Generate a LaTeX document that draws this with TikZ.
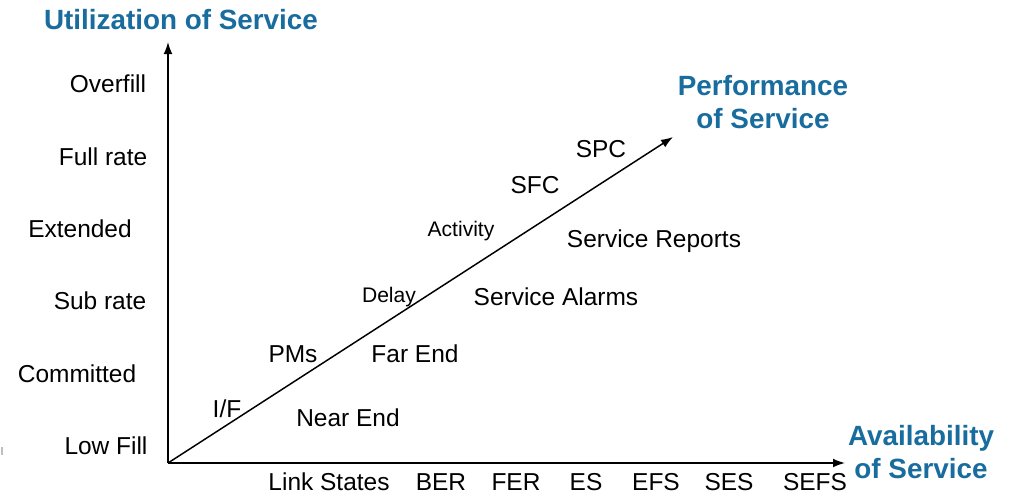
\documentclass[tikz,border=0pt]{standalone}
\usepackage{fontspec}
\setmainfont{Liberation Sans}
\usetikzlibrary{arrows.meta}
\definecolor{titleblue}{RGB}{24,108,158}

\begin{document}
\begin{tikzpicture}
            [
                x=0.025cm, y=-0.025cm,
                label/.style={inner sep=0pt, font=\fontsize{17.4}{20}\selectfont},
                small/.style={inner sep=0pt, font=\fontsize{15}{18}\selectfont},
                title/.style={inner sep=0pt, align=center, text=titleblue, font=\fontsize{19.8}{23.5}\selectfont\bfseries},
                axis/.style={line width=1.05pt, -{Latex[length=3mm,width=2.2mm]}}
            ]
            \useasboundingbox (0,0) rectangle (1013,495);
            %coordinates
            \coordinate (origin)     at (168,463);
            \coordinate (util_end)   at (168,42);
            \coordinate (avail_end)  at (845,463);
            \coordinate (perf_end)   at (673,137);
            %titles
            \node[title] at (181,20)                (util_title)   {Utilization of Service};
            \node[title] at (763,102)               (perf_title)   {Performance\\of Service};
            \node[title] at (921,452)               (avail_title)  {Availability\\of Service};
            %utilization levels
            \node[label] at (108,84)                (overfill)     {Overfill};
            \node[label] at (103,157)               (full_rate)    {Full rate};
            \node[label] at (80,229)                (extended)     {Extended};
            \node[label] at (100,301)               (sub_rate)     {Sub rate};
            \node[label] at (77,374)                (committed)    {Committed};
            \node[label] at (106,446)               (low_fill)     {Low Fill};
            %availability measures
            \node[label] at (329,482)               (link_states)  {Link States};
            \node[label] at (441,482)               (ber)          {BER};
            \node[label] at (516,482)               (fer)          {FER};
            \node[label] at (586,482)               (es)           {ES};
            \node[label] at (656,482)               (efs)          {EFS};
            \node[label] at (729,482)               (ses)          {SES};
            \node[label] at (815,482)               (sefs)         {SEFS};
            %performance measures
            \node[label] at (601,149)               (spc)          {SPC};
            \node[label] at (535,185)               (sfc)          {SFC};
            \node[small] at (461,231)               (activity)     {Activity};
            \node[label] at (654,241)               (service_rep)  {Service Reports};
            \node[small] at (389,297)               (delay)        {Delay};
            \node[label] at (556,297)               (service_alm)  {Service Alarms};
            \node[label] at (293,354)               (pms)          {PMs};
            \node[label] at (415,354)               (far_end)      {Far End};
            \node[label] at (227,409)               (i_f)          {I/F};
            \node[label] at (348,418)               (near_end)     {Near End};
            %arrows
            \draw[axis] (origin) -- (util_end);
            \draw[axis] (origin) -- (avail_end);
            \draw[axis] (origin) -- (perf_end);
            %mark at left edge
            \draw[gray!50, line width=0.8pt] (2,447) -- (2,455);
        \end{tikzpicture}
\end{document}
